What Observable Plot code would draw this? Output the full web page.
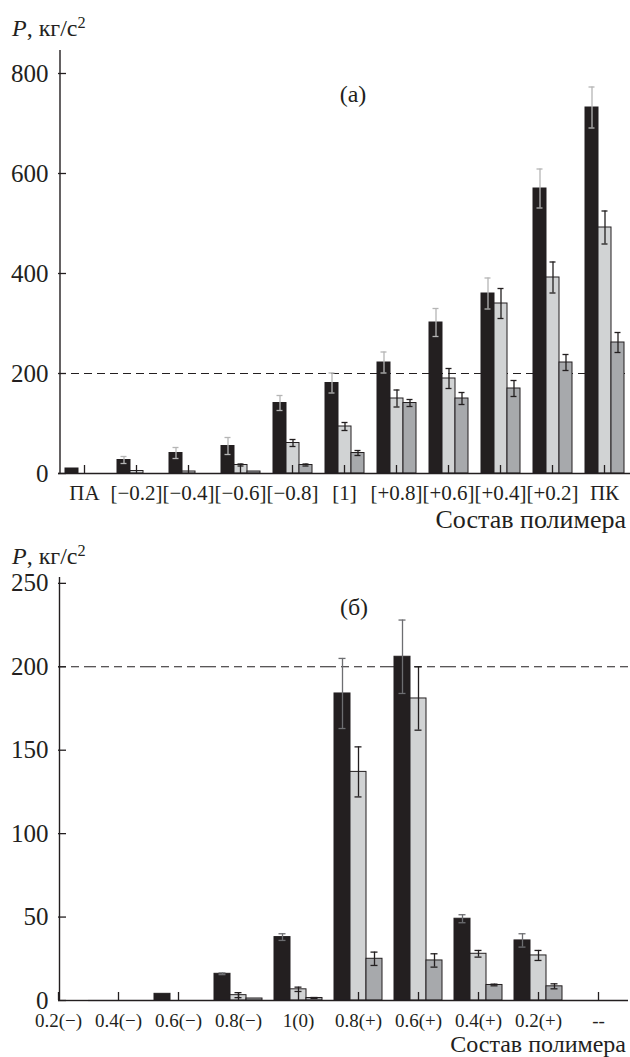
<!DOCTYPE html>
<html><head><meta charset="utf-8">
<script src="https://cdn.jsdelivr.net/npm/d3@7"></script>
<script src="https://cdn.jsdelivr.net/npm/@observablehq/plot@0.6"></script>
<style>
body{margin:0;background:#fff;}
#wrap{position:relative;width:630px;height:1057px;font-family:"Liberation Serif","Times New Roman",serif;color:#231f20;overflow:hidden;}
.lbl{position:absolute;white-space:nowrap;line-height:1;}
.c{transform:translate(-50%,-50%);}
.r{transform:translateY(-50%);}
sup{font-size:0.68em;position:relative;top:-0.5em;vertical-align:baseline;}
#wrap svg{position:absolute;left:0;}
</style></head><body><div id="wrap"></div>
<script>
// series (bar order inside each group)
const series = ["black", "light", "dark"];
const seriesColors = ["#231f20", "#d1d3d4", "#a7a9ac"];

// ---- panel (а)
const catsA = ["ПА", "[−0.2]", "[−0.4]", "[−0.6]", "[−0.8]", "[1]", "[+0.8]", "[+0.6]", "[+0.4]", "[+0.2]", "ПК"];
const blackA    = [10, 27, 41, 55, 141, 181, 222, 302, 360, 570, 732];
const blackErrA = [0, 7, 11, 17, 15, 20, 21, 28, 31, 39, 41];
const lightA    = [0, 5, 4, 17, 61, 94, 150, 190, 340, 392, 492];
const lightErrA = [0, 0, 0, 2, 7, 8, 17, 20, 30, 31, 33];
const darkA     = [0, 0, 0, 4, 17, 41, 141, 150, 170, 222, 262];
const darkErrA  = [0, 0, 0, 0, 2, 5, 7, 12, 16, 16, 20];
const yTicksA = [0, 200, 400, 600, 800];
const yMaxA = 846;

// ---- panel (б)
const catsB = ["0.2(−)", "0.4(−)", "0.6(−)", "0.8(−)", "1(0)", "0.8(+)", "0.6(+)", "0.4(+)", "0.2(+)", "--"];
const blackB    = [0, 0, 4, 16, 38, 184, 206, 49, 36, 0];
const blackErrB = [0, 0, 0, 0.5, 2, 21, 22, 2.4, 4, 0];
const lightB    = [0, 0, 0, 3.2, 6.7, 137, 181, 28, 27, 0];
const lightErrB = [0, 0, 0, 1.5, 1.3, 15, 19, 2, 3, 0];
const darkB     = [0, 0, 0, 1.2, 1.5, 25, 24, 9.3, 8.5, 0];
const darkErrB  = [0, 0, 0, 0, 0.3, 4, 4, 0.5, 1.5, 0];
const yTicksB = [0, 50, 100, 150, 200, 250];
const yMaxB = 253.5;

const threshold = 200;

function rowsOf(cats, vals, errs) {
  const rows = [];
  cats.forEach((c, i) => series.forEach((s, j) => rows.push({cat: c, series: s, value: vals[j][i], err: errs[j][i]})));
  return rows;
}
const rowsA = rowsOf(catsA, [blackA, lightA, darkA], [blackErrA, lightErrA, darkErrA]);
const rowsB = rowsOf(catsB, [blackB, lightB, darkB], [blackErrB, lightErrB, darkErrB]);

const ink = "#231f20";

function errorMarks(rows, blackColor, inset) {
  const eb = rows.filter(d => d.err > 0 && d.series === "black");
  const eo = rows.filter(d => d.err > 0 && d.series !== "black");
  const out = [];
  for (const [data, col] of [[eb, blackColor], [eo, ink]]) {
    out.push(Plot.ruleX(data, {fx: "cat", x: "series", y1: d => d.value - d.err, y2: d => d.value + d.err, stroke: col, strokeWidth: 1.3}));
    out.push(Plot.tickY(data, {fx: "cat", x: "series", y: d => d.value + d.err, stroke: col, strokeWidth: 1.3, insetLeft: inset, insetRight: inset}));
    out.push(Plot.tickY(data, {fx: "cat", x: "series", y: d => d.value - d.err, stroke: col, strokeWidth: 1.3, insetLeft: inset, insetRight: inset}));
  }
  return out;
}

const style = {fontFamily: "Liberation Serif", fontSize: "25px", color: ink, background: "transparent", overflow: "visible"};

const plotA = Plot.plot({
  width: 630, height: 505,
  marginLeft: 58, marginRight: 0, marginTop: 50, marginBottom: 32,
  style,
  fx: {domain: catsA, padding: 0, label: null},
  x: {domain: series, paddingInner: 0, paddingOuter: 0.36, axis: null},
  y: {domain: [0, yMaxA], axis: null},
  color: {domain: series, range: seriesColors},
  marks: [
    Plot.ruleY(catsA, {fx: d => d, y: () => threshold, stroke: ink, strokeWidth: 1.2, strokeDasharray: "8,5"}),
    Plot.barY(rowsA.filter(d => d.value > 0), {fx: "cat", x: "series", y: "value", fill: "series", stroke: ink, strokeWidth: 1}),
    ...errorMarks(rowsA, "#b5b5b5", 3.5),
    Plot.ruleY(catsA, {fx: d => d, y: () => 0, stroke: ink, strokeWidth: 1.4}),
    // y axis line and inward ticks (first facet)
    Plot.ruleX(catsA.slice(0, 1), {fx: d => d, x: () => series[0], dx: -12, stroke: ink, strokeWidth: 1.4}),
    Plot.tickY(yTicksA, {fx: () => catsA[0], y: d => d, insetRight: 44, stroke: ink, strokeWidth: 1.3}),
    Plot.axisY({ticks: yTicksA, tickSize: 0, tickPadding: 10, label: null}),
    Plot.axisFx({anchor: "bottom", tickSize: -8, tickPadding: 20, label: null, fontSize: 21, stroke: ink, strokeWidth: 1.3})
  ]
});

const plotB = Plot.plot({
  width: 630, height: 527,
  marginLeft: 28, marginRight: 2, marginTop: 47, marginBottom: 57,
  style,
  fx: {domain: catsB, padding: 0, label: null},
  x: {domain: series, paddingInner: 0, paddingOuter: 0.265, axis: null},
  y: {domain: [0, yMaxB], axis: null},
  color: {domain: series, range: seriesColors},
  marks: [
    Plot.ruleY(catsB.slice(1), {fx: d => d, y: () => threshold, stroke: ink, strokeWidth: 1.2, strokeDasharray: "8,5"}),
    Plot.ruleY(catsB.slice(0, 1), {fx: d => d, y: () => threshold, stroke: ink, strokeWidth: 1.2, strokeDasharray: "8,5", insetLeft: 30}),
    Plot.barY(rowsB.filter(d => d.value > 0), {fx: "cat", x: "series", y: "value", fill: "series", stroke: ink, strokeWidth: 1}),
    ...errorMarks(rowsB, "#6d6e71", 4.5),
    Plot.ruleY(catsB.slice(1), {fx: d => d, y: () => 0, stroke: ink, strokeWidth: 1.4}),
    Plot.ruleY(catsB.slice(0, 1), {fx: d => d, y: () => 0, stroke: ink, strokeWidth: 1.4, insetLeft: 30}),
    // y axis line and inward ticks (first facet, at its centre)
    Plot.ruleX(catsB.slice(0, 1), {fx: d => d, x: () => series[0], dx: 17, stroke: ink, strokeWidth: 1.4}),
    Plot.tickY(yTicksB, {fx: () => catsB[0], y: d => d, insetLeft: 30, insetRight: 22, stroke: ink, strokeWidth: 1.3}),
    Plot.axisY({ticks: yTicksB, tickSize: 0, tickPadding: 10, dx: 30, label: null}),
    Plot.axisFx({anchor: "bottom", tickSize: -8, tickPadding: 21, label: null, fontSize: 19, stroke: ink, strokeWidth: 1.3})
  ]
});

const wrap = document.getElementById("wrap");
plotA.style.top = "0px";
plotB.style.top = "530px";
wrap.appendChild(plotA);
wrap.appendChild(plotB);

function label(html, css, cls) {
  const d = document.createElement("div");
  d.className = "lbl " + (cls || "");
  d.innerHTML = html;
  Object.assign(d.style, css);
  wrap.appendChild(d);
}
const yLabel = "<i>P</i>, кг/с<sup>2</sup>";
label(yLabel, {left: "12px", top: "16px", fontSize: "24px"});
label(yLabel, {left: "12px", top: "544px", fontSize: "24px"});
label("(а)", {left: "353px", top: "94px", fontSize: "24px"}, "c");
label("(б)", {left: "354px", top: "607px", fontSize: "24px"}, "c");
label("Состав полимера", {right: "4px", top: "520px", fontSize: "26px"}, "r");
label("Состав полимера", {right: "4px", top: "1044px", fontSize: "24px"}, "r");
</script>
</body></html>
